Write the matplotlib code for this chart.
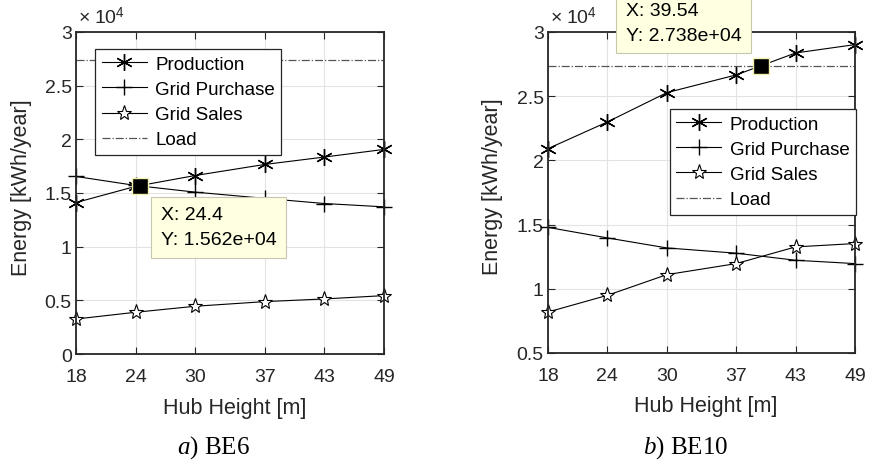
import numpy as np
import matplotlib.pyplot as plt

plt.rcParams['font.family'] = 'Liberation Sans'
plt.rcParams['mathtext.fontset'] = 'custom'
plt.rcParams['mathtext.rm'] = 'Liberation Sans'
plt.rcParams['mathtext.it'] = 'Liberation Serif:italic'

hub = [18, 24, 30, 37, 43, 49]

# BE6 (kWh/year)
prod_be6 = [14110, 15620, 16630, 17660, 18350, 19060]
buy_be6 = [16540, 15700, 15080, 14500, 14020, 13710]
sell_be6 = [3260, 3890, 4450, 4880, 5130, 5440]

# BE10 (kWh/year)
prod_be10 = [20910, 22990, 25270, 26650, 28360, 29010]
buy_be10 = [14780, 13960, 13180, 12770, 12220, 11960]
sell_be10 = [8190, 9490, 11100, 11960, 13260, 13520]

load = 27380
tip_be6 = (24.4, 15620)
tip_be10 = (39.54, 27380)

ylims = [(0, 3), (0.5, 3)]
captions = [r'$a$) BE6', r'$b$) BE10']

fig = plt.figure(figsize=(8.73, 4.64), dpi=100)
ax1 = fig.add_axes([0.0871, 0.2349, 0.3528, 0.694])
ax2 = fig.add_axes([0.6277, 0.2371, 0.3517, 0.692])

star6 = (6, 2, 0)
dark = '#262626'


def draw(ax, prod, buy, sell, tip, ylim, legpos, tipoff, tipha, tipva):
    s = 1e4
    ax.plot(hub, np.array(prod) / s, '-', color='k', lw=0.8, marker=star6,
            ms=12, mew=1.0, label='Production', clip_on=False)
    ax.plot(hub, np.array(buy) / s, '-', color='k', lw=0.8, marker='+',
            ms=12, mew=1.0, label='Grid Purchase', clip_on=False)
    ax.plot(hub, np.array(sell) / s, '-', color='k', lw=0.8, marker='*',
            ms=11, mfc='white', mew=0.8, label='Grid Sales', clip_on=False)
    ax.axhline(load / s, color='#555555', lw=0.9, ls='-.', label='Load')

    ax.set_xlim(18, 49)
    ax.set_ylim(*ylim)
    ax.set_xticks(hub)
    ax.set_yticks(np.arange(ylim[0], ylim[1] + 0.01, 0.5))
    ax.yaxis.set_major_formatter(plt.FormatStrFormatter('%g'))
    ax.tick_params(direction='in', length=5, width=0.8, labelsize=14,
                   colors=dark, top=True, right=True, pad=3)
    ax.tick_params(axis='x', pad=10)
    for sp in ax.spines.values():
        sp.set_linewidth(1.3)
        sp.set_color(dark)
    ax.grid(True, color='#e3e3e3', lw=0.8)
    ax.set_axisbelow(True)

    ax.set_ylabel('Energy [kWh/year]', fontsize=15.5, color=dark)
    ax.set_xlabel('Hub Height [m]', fontsize=15.5, color=dark)
    ax.xaxis.set_label_coords(0.515, -0.165)
    ax.xaxis.label.set_va('center')

    ax.text(0.005, 1.015, r'$\times\ 10^4$', transform=ax.transAxes,
            fontsize=14, color=dark, ha='left', va='bottom')

    leg = ax.legend(loc='upper left', bbox_to_anchor=legpos, borderaxespad=0,
                    fancybox=False, framealpha=1, edgecolor=dark,
                    fontsize=13.5, handlelength=2.4, handletextpad=0.45,
                    labelspacing=0.43, borderpad=0.35)
    leg.get_frame().set_linewidth(0.9)

    # data tip
    ax.plot(tip[0], tip[1] / s, 's', color='k', ms=11, mec='#f4f0b0',
            mew=1.0, zorder=5, clip_on=False)
    ax.annotate('X: %g\nY: %.3e' % (tip[0], tip[1]),
                xy=(tip[0], tip[1] / s), xytext=tipoff,
                textcoords='offset pixels', ha=tipha, va=tipva,
                multialignment='left', fontsize=14, color='k',
                linespacing=1.6, annotation_clip=False, zorder=6,
                bbox=dict(boxstyle='square,pad=0.5', fc='#ffffe1',
                          ec='#c8c8b0', lw=0.8))


draw(ax1, prod_be6, buy_be6, sell_be6, tip_be6, ylims[0], (0.062, 0.947),
     (21, -20), 'left', 'top')
draw(ax2, prod_be10, buy_be10, sell_be10, tip_be10, ylims[1], (0.397, 0.760),
     (-20, 22), 'right', 'bottom')

ax1.yaxis.set_label_coords(-0.143, 0.52)
ax2.yaxis.set_label_coords(-0.147, 0.52)

fig.text(213 / 873, 0.0345, captions[0], fontsize=18, ha='center',
         va='center', family='Liberation Serif')
fig.text(686 / 873, 0.0345, captions[1], fontsize=18, ha='center',
         va='center', family='Liberation Serif')

fig.savefig('out.png', dpi=100)
